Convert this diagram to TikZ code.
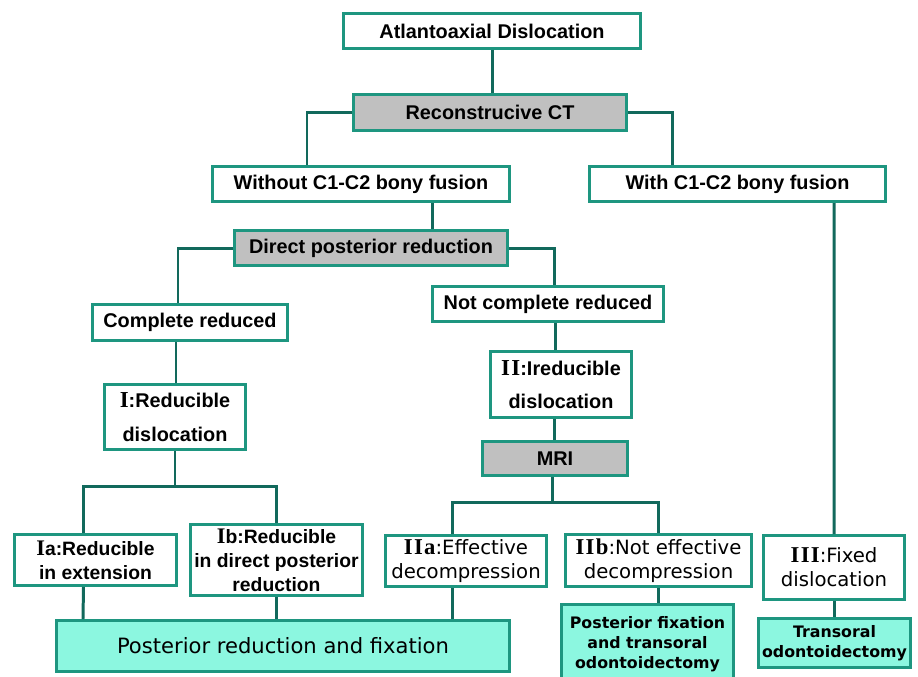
\documentclass[tikz,border=0pt]{standalone}
\usepackage{fontspec}
\setmainfont{Liberation Sans}
\newfontfamily\dvs{DejaVu Sans}
\newfontfamily\numfont[Scale=1.15,LetterSpace=6]{Liberation Serif}
\usetikzlibrary{calc}

\definecolor{rim}{RGB}{30,150,128}
\definecolor{wirecol}{RGB}{18,105,92}
\definecolor{boxgray}{RGB}{192,192,192}
\definecolor{mint}{RGB}{140,247,224}
\newcommand\romnum[1]{{\numfont\bfseries #1}}

\tikzset{
	box/.style={draw=rim,line width=1.7pt,fill=white,align=center,inner sep=0pt,
		font=\bfseries\fontsize{11.3}{19}\selectfont},
	probe/.style={box,fill=boxgray},
	subb/.style={box,font=\bfseries\fontsize{11}{13.6}\selectfont},
	sub/.style={box,font=\dvs\fontsize{11.2}{13.6}\selectfont},
	cure/.style={box,fill=mint,font=\dvs\bfseries\fontsize{9}{11.3}\selectfont},
	link/.style={draw=wirecol,line width=1.7pt},
	sz/.style 2 args={minimum width=#1*0.2mm,minimum height=#2*0.2mm}
}

\begin{document}
\begin{tikzpicture}[x=0.2mm,y=-0.2mm]
	\useasboundingbox (0,0) rectangle (918,676);
	% блоки
	\node[box,sz={297}{35}]   (atl)      at (492,31)    {Atlantoaxial Dislocation};
	\node[probe,sz={273}{36}] (ct)       at (490,112.5) {Reconstrucive CT};
	\node[box,sz={297}{35}]   (without)  at (361,184)   {Without C1-C2 bony fusion};
	\node[box,sz={296}{35}]   (with)     at (737.5,184) {With C1-C2 bony fusion};
	\node[probe,sz={273}{35}] (direct)   at (371,248)   {Direct posterior reduction};
	\node[box,sz={195}{36}]   (compl)    at (190,322.5) {Complete reduced};
	\node[box,sz={231}{35}]   (notcompl) at (548,304)   {Not complete reduced};
	\node[box,sz={141}{65}]   (red)      at (175,417)   {\romnum{I}:Reducible\\dislocation};
	\node[box,sz={141}{66}]   (irr)      at (561,384.5) {\romnum{II}:Ireducible\\dislocation};
	\node[probe,sz={145}{34}] (mri)      at (555,458.5) {MRI};
	\node[subb,sz={162}{51}]  (ia)       at (95.5,560)  {\romnum{I}a:Reducible\\in extension};
	\node[subb,sz={172}{71}]  (ib)       at (276.5,560) {\romnum{I}b:Reducible\\in direct posterior\\reduction};
	\node[sub,sz={161}{51}]   (iia)      at (466,561)   {\romnum{IIa}:Effective\\decompression};
	\node[sub,sz={186}{52}]   (iib)      at (658.5,560.5) {\romnum{IIb}:Not effective\\decompression};
	\node[sub,sz={141}{64}]   (iii)      at (834,567.5) {\romnum{III}:Fixed\\dislocation};
	\node[cure,sz={453}{51},font=\dvs\fontsize{12}{14}\selectfont]
		(postred) at (283,646) {Posterior reduction and fixation};
	\node[cure,sz={172}{80}]  (postfix)  at (647.5,644) {Posterior fixation\\and transoral\\odontoidectomy};
	\node[cure,sz={152}{49}]  (trans)    at (834.5,643) {Transoral\\odontoidectomy};
	% связи
	\draw[link] (atl.south) -- (atl.south |- ct.north);
	\draw[link] (ct.west) -| ($(without.north)+(-54,0)$);
	\draw[link] (ct.east) -| ($(with.north)+(-65.5,0)$);
	\draw[link] ($(without.south)+(71,0)$) -- ($(direct.north)+(61,0)$);
	\draw[link] (direct.west) -| ($(compl.north)+(-12,0)$);
	\draw[link] (direct.east) -| ($(notcompl.north)+(6,0)$);
	\draw[link] ($(compl.south)+(-14,0)$) -- ($(red.north)+(1,0)$);
	\draw[link] ($(notcompl.south)+(7,0)$) -- ($(irr.north)+(-6,0)$);
	\draw[link] ($(irr.south)+(-7,0)$) -- ($(mri.north)+(-1,0)$);
	\draw[link] ($(with.south)+(96.5,0)$) -- (iii.north);
	\coordinate (jI) at (175,486);											% развилка I
	\draw[link] (red.south) -- (jI);
	\draw[link] ($(ia.north)+(-12,0)$) |- (jI) -| (ib.north);
	\coordinate (jII) at (552,502);											% развилка MRI
	\draw[link] ($(mri.south)+(-3,0)$) -- (jII);
	\draw[link] ($(iia.north)+(-14,0)$) |- (jII) -| (iib.north);
	% к лечению
	\draw[link] ($(ia.south)+(-12,0)$) -- ($(postred.north)+(-200,0)$);
	\draw[link] (ib.south) -- (ib.south |- postred.north);
	\draw[link] ($(iia.south)+(-14,0)$) -- ($(postred.north)+(169,0)$);
	\draw[link] (iib.south) -- (iib.south |- postfix.north);
	\draw[link] (iii.south) -- (iii.south |- trans.north);
\end{tikzpicture}
\end{document}
